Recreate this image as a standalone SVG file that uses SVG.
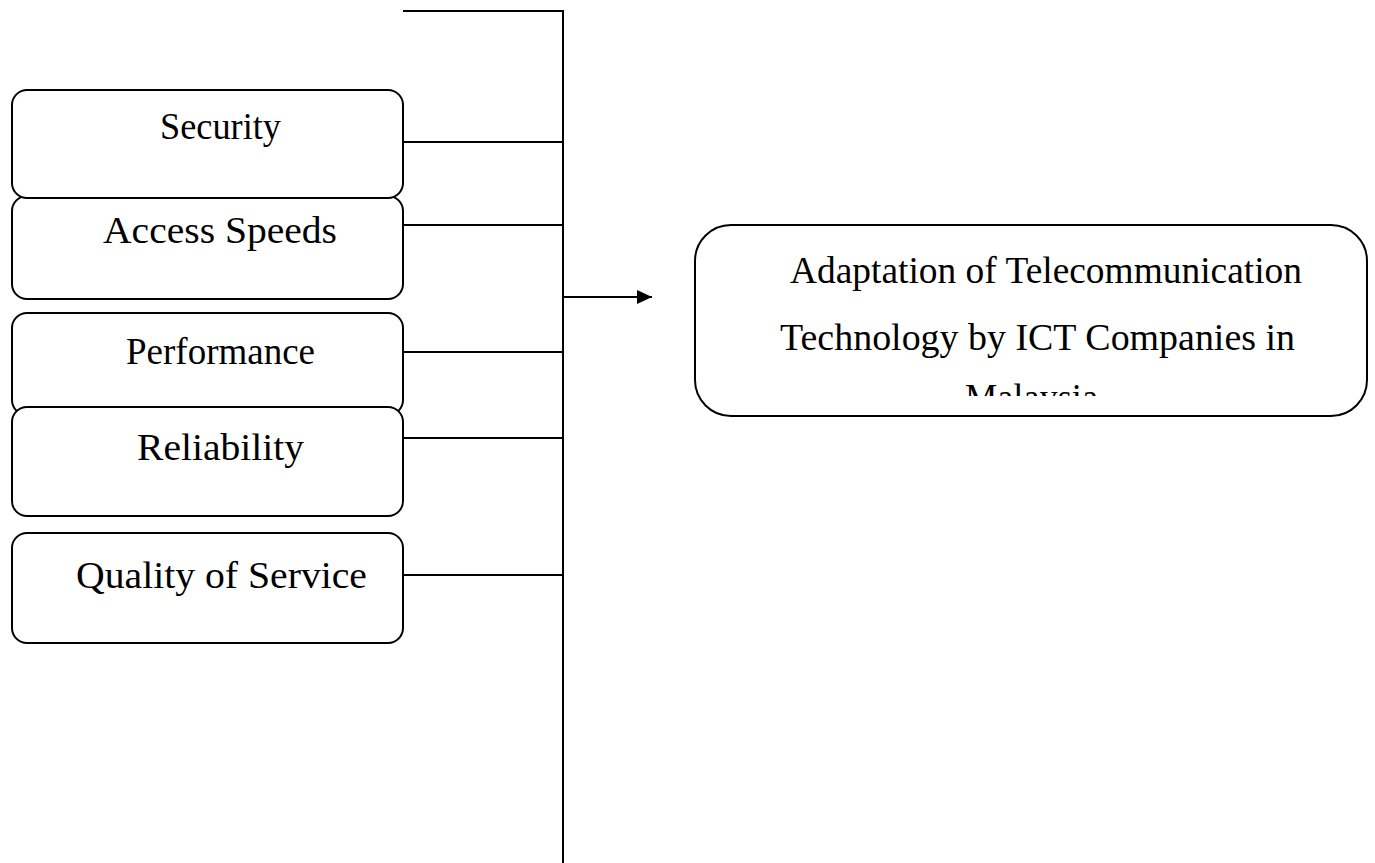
<svg xmlns="http://www.w3.org/2000/svg" width="1375" height="863" viewBox="0 0 1375 863">
<style>
.box{fill:#fff;stroke:#000;stroke-width:2}
.lbl{font-family:"Liberation Serif","Times New Roman",serif;font-size:38px;fill:#000}
.ln{stroke:#000;stroke-width:2;fill:none}
</style>
<defs>
<marker id="ah" markerWidth="16" markerHeight="14" refX="15" refY="7" orient="auto" markerUnits="userSpaceOnUse">
<path d="M0,0 L15,7 L0,14 Z" fill="#000"/>
</marker>
<clipPath id="mainclip"><rect x="697" y="227" width="668" height="169"/></clipPath>
</defs>
<g id="connectors">
<path class="ln" d="M403,11 H563 V863"/>
<path class="ln" d="M403,142 H563"/>
<path class="ln" d="M403,225 H563"/>
<path class="ln" d="M403,352 H563"/>
<path class="ln" d="M403,438 H563"/>
<path class="ln" d="M403,575 H563"/>
<path class="ln" d="M563,297 H652" marker-end="url(#ah)"/>
</g>
<g id="access">
<rect class="box" x="12" y="196" width="391" height="103" rx="15"/>
<text class="lbl" x="103" y="243" font-size="40" textLength="234" lengthAdjust="spacingAndGlyphs">Access Speeds</text>
</g>
<g id="security">
<rect class="box" x="12" y="90" width="391" height="108" rx="15"/>
<text class="lbl" x="160" y="139" font-size="35" textLength="121" lengthAdjust="spacingAndGlyphs">Security</text>
</g>
<g id="performance">
<rect class="box" x="12" y="313" width="391" height="102" rx="15"/>
<text class="lbl" x="126" y="364" font-size="37" textLength="189" lengthAdjust="spacingAndGlyphs">Performance</text>
</g>
<g id="reliability">
<rect class="box" x="12" y="407" width="391" height="109" rx="15"/>
<text class="lbl" x="137" y="460" font-size="39.5" textLength="167" lengthAdjust="spacingAndGlyphs">Reliability</text>
</g>
<g id="quality">
<rect class="box" x="12" y="533" width="391" height="110" rx="15"/>
<text class="lbl" x="76" y="588" font-size="39" textLength="291" lengthAdjust="spacingAndGlyphs">Quality of Service</text>
</g>
<g id="adaptation">
<rect class="box" x="695" y="225" width="672" height="191" rx="36"/>
<g clip-path="url(#mainclip)">
<text class="lbl" x="790" y="283" font-size="37.5" textLength="512" lengthAdjust="spacingAndGlyphs">Adaptation of Telecommunication</text>
<text class="lbl" x="780" y="350" font-size="37.5" textLength="515" lengthAdjust="spacingAndGlyphs">Technology by ICT Companies in</text>
<text class="lbl" x="965" y="410" font-size="37.5" textLength="133" lengthAdjust="spacingAndGlyphs">Malaysia</text>
</g>
</g>
</svg>
